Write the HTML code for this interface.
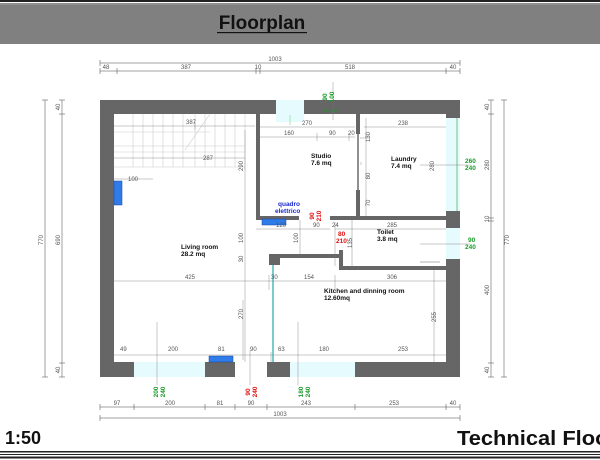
<!DOCTYPE html>
<html><head><meta charset="utf-8"><style>
html,body{margin:0;padding:0;background:#fff;}
svg{display:block;font-family:"Liberation Sans",sans-serif;}
.d{fill:#555;font-size:6px;}
.g{fill:#1a9a2a;font-size:6.5px;font-weight:bold;}
.r{fill:#e01010;font-size:6.5px;font-weight:bold;}
.rm{fill:#111;font-size:6.5px;font-weight:bold;}
</style></head><body>
<svg width="600" height="460" viewBox="0 0 600 460">
<!-- header -->
<rect x="0" y="0" width="600" height="2" fill="#222"/>
<rect x="0" y="3.5" width="600" height="1" fill="#222"/>
<rect x="0" y="5" width="600" height="39" fill="#808080"/>
<text x="262" y="29" text-anchor="middle" font-size="19" font-weight="bold" fill="#111">Floorplan</text>
<rect x="217" y="32" width="90" height="1.2" fill="#111"/>
<!-- footer -->
<text x="5" y="444" font-size="18" font-weight="bold" fill="#111">1:50</text>
<text x="457" y="445" font-size="20" font-weight="bold" fill="#111" textLength="160" lengthAdjust="spacingAndGlyphs">Technical Floor</text>
<rect x="0" y="451" width="600" height="1.5" fill="#222"/>
<rect x="0" y="454" width="600" height="1" fill="#222"/>
<rect x="0" y="456.5" width="600" height="2" fill="#222"/>

<!-- windows cyan -->
<g fill="#e6fbfd">
<rect x="276" y="100" width="28" height="22"/>
<rect x="446" y="228" width="14" height="31"/>
<rect x="134" y="362" width="71" height="15"/>
<rect x="290" y="362" width="65" height="15"/>
<rect x="446" y="118" width="14" height="93"/>
</g>
<line x1="457" y1="118" x2="457" y2="211" stroke="#2a9a3a" stroke-width="0.6"/>
<line x1="290" y1="115" x2="290" y2="125" stroke="#6c6" stroke-width="0.5"/>

<!-- stairs -->
<g stroke="#ccc" stroke-width="0.6" fill="none">
<path d="M114,132 H210 M114,146 H245 M114,152 H245 M114,167 H245"/>
<path d="M133,114 V167 M143,114 V167 M153,114 V167 M163,114 V167 M173,114 V167 M183,114 V167 M195,114 V167 M205,114 V167 M215,114 V167 M225,114 V167 M235,114 V167 M245,114 V170 M210,114 L185,150"/>
</g>

<!-- walls -->
<g fill="#666">
<path d="M100,100 H276 V114 H114 V362 H134 V377 H100 Z"/>
<path d="M304,100 H460 V118 H446 V114 H304 Z"/>
<rect x="446" y="211" width="14" height="17"/>
<path d="M446,259 H460 V377 H355 V362 H446 Z"/>
<rect x="205" y="362" width="30" height="15"/>
<rect x="267" y="362" width="23" height="15"/>
<rect x="256" y="114" width="4" height="106"/>
<rect x="256" y="216" width="43" height="4"/>
<rect x="330" y="216" width="116" height="4"/>
<rect x="356" y="114" width="4" height="20"/>
<rect x="356" y="190" width="4" height="26"/>
<rect x="269" y="254" width="11" height="11"/>
<rect x="269" y="254" width="73" height="4"/>
<rect x="339" y="250" width="4" height="20"/>
<rect x="339" y="266" width="107" height="4"/>
</g>
<line x1="358" y1="134" x2="358" y2="190" stroke="#222" stroke-width="1"/>
<line x1="352" y1="220" x2="352" y2="266" stroke="#888" stroke-width="0.5"/>
<line x1="273" y1="265" x2="273" y2="362" stroke="#7cc" stroke-width="2"/>
<line x1="420" y1="262" x2="440" y2="262" stroke="#999" stroke-width="0.8"/>

<!-- blue -->
<g fill="#2f7be8" stroke="#1446a0" stroke-width="0.5">
<rect x="114" y="181" width="8" height="24"/>
<rect x="262" y="219" width="24" height="6"/>
<rect x="209" y="356" width="24" height="6"/>
</g>

<!-- dimension lines -->
<g stroke="#444" stroke-width="0.5" fill="none">
<path d="M100,63 H460 M100,60 V66 M460,60 V66"/>
<path d="M100,71 H460 M100,68 V74 M117,68 V74 M256,68 V74 M260,68 V74 M446,68 V74 M460,68 V74"/>
<path d="M45,100 V377 M42,100 H48 M42,377 H48"/>
<path d="M62,100 V377 M59,100 H65 M59,114 H65 M59,363 H65 M59,377 H65"/>
<path d="M504,100 V377 M501,100 H507 M501,377 H507"/>
<path d="M491,100 V377 M488,100 H494 M488,114 H494 M488,218 H494 M488,221 H494 M488,363 H494 M488,377 H494"/>
<path d="M100,407 H460 M100,404 V410 M134,404 V410 M205,404 V410 M235,404 V410 M267,404 V410 M355,404 V410 M446,404 V410 M460,404 V410"/>
<path d="M100,418 H460 M100,415 V421 M460,415 V421"/>
</g>
<g stroke="#777" stroke-width="0.4" fill="none">
<path d="M114,126 H255 M195,122 V130 M260,127 H355 M260,137 H355 M317,133 V141 M349,133 V141 M364,127 H446"/>
<path d="M114,158 H245 M114,179 H153 M245,130 V362 M366,118 V216 M360,138 H370"/>
<path d="M256,229 H330 M300,220 V254 M335,229 H446 M335,222 V266"/>
<path d="M114,281 H446 M269,275 V290 M335,275 V290 M434,270 V362 M114,355 H446"/>
<path d="M271,352 V362 M243,300 V360 M157,322 V385 M298,322 V385 M250,350 V385 M361,162 V165 M420,165 H470 M420,244 H470 M333,82 V120"/>
</g>
<g class="d">
<text x="275" y="61" text-anchor="middle">1003</text>
<text x="106" y="69" text-anchor="middle">48</text>
<text x="186" y="69" text-anchor="middle">387</text>
<text x="258" y="69" text-anchor="middle">10</text>
<text x="350" y="69" text-anchor="middle">518</text>
<text x="453" y="69" text-anchor="middle">40</text>
<text x="117" y="405" text-anchor="middle">97</text>
<text x="170" y="405" text-anchor="middle">200</text>
<text x="220" y="405" text-anchor="middle">81</text>
<text x="251" y="405" text-anchor="middle">90</text>
<text x="306" y="405" text-anchor="middle">243</text>
<text x="394" y="405" text-anchor="middle">253</text>
<text x="453" y="405" text-anchor="middle">40</text>
<text x="280" y="416" text-anchor="middle">1003</text>
<text x="186" y="124">387</text><text x="203" y="160">287</text><text x="128" y="181">100</text>
<text x="302" y="125">270</text><text x="284" y="135">160</text><text x="329" y="135">90</text><text x="348" y="135">20</text>
<text x="398" y="125">238</text>
<text x="276" y="227">120</text><text x="313" y="227">90</text><text x="332" y="227">24</text><text x="387" y="227">285</text>
<text x="185" y="279">425</text><text x="271" y="279">30</text><text x="304" y="279">154</text><text x="387" y="279">306</text>
<text x="120" y="351">49</text><text x="168" y="351">200</text><text x="218" y="351">81</text><text x="250" y="351">90</text><text x="278" y="351">63</text><text x="319" y="351">180</text><text x="398" y="351">253</text>
</g>
<g class="d" text-anchor="middle">
<text transform="translate(43,240) rotate(-90)">770</text>
<text transform="translate(60,240) rotate(-90)">690</text>
<text transform="translate(60,107) rotate(-90)">40</text>
<text transform="translate(60,370) rotate(-90)">40</text>
<text transform="translate(509,240) rotate(-90)">770</text>
<text transform="translate(489,107) rotate(-90)">40</text>
<text transform="translate(489,165) rotate(-90)">280</text>
<text transform="translate(489,219) rotate(-90)">10</text>
<text transform="translate(489,290) rotate(-90)">400</text>
<text transform="translate(489,370) rotate(-90)">40</text>
<text transform="translate(243,166) rotate(-90)">290</text>
<text transform="translate(243,238) rotate(-90)">100</text>
<text transform="translate(243,259) rotate(-90)">30</text>
<text transform="translate(243,314) rotate(-90)">270</text>
<text transform="translate(298,238) rotate(-90)">100</text>
<text transform="translate(370,137) rotate(-90)">130</text>
<text transform="translate(370,176) rotate(-90)">80</text>
<text transform="translate(370,203) rotate(-90)">70</text>
<text transform="translate(434,166) rotate(-90)">280</text>
<text transform="translate(352,243) rotate(-90)">135</text>
<text transform="translate(436,317) rotate(-90)">255</text>
</g>
<!-- green/red labels -->
<text class="g" transform="translate(327,97) rotate(-90)" text-anchor="middle">90</text>
<text class="g" transform="translate(334,97) rotate(-90)" text-anchor="middle">100</text>
<text x="324" y="112" fill="#1a9a2a" font-size="4.5">alt*130</text>
<text class="g" x="465" y="163">260</text><text class="g" x="465" y="170">240</text>
<text class="g" x="468" y="242">90</text><text class="g" x="465" y="249">240</text>
<text class="g" transform="translate(158,392) rotate(-90)" text-anchor="middle">200</text>
<text class="g" transform="translate(165,392) rotate(-90)" text-anchor="middle">240</text>
<text class="r" transform="translate(250,392) rotate(-90)" text-anchor="middle">90</text>
<text class="r" transform="translate(257,392) rotate(-90)" text-anchor="middle">240</text>
<text class="g" transform="translate(303,392) rotate(-90)" text-anchor="middle">180</text>
<text class="g" transform="translate(310,392) rotate(-90)" text-anchor="middle">240</text>
<text class="r" transform="translate(314,216) rotate(-90)" text-anchor="middle">90</text>
<text class="r" transform="translate(321,216) rotate(-90)" text-anchor="middle">210</text>
<text class="r" x="338" y="236">80</text><text class="r" x="336" y="243">210</text>
<text x="278" y="206" fill="#1a2ad0" font-size="6.5" font-weight="bold">quadro</text>
<text x="275" y="213" fill="#1a2ad0" font-size="6.5" font-weight="bold">elettrico</text>
<!-- rooms -->
<g class="rm">
<text x="311" y="158">Studio</text><text x="311" y="165">7.6 mq</text>
<text x="391" y="161">Laundry</text><text x="391" y="168">7.4 mq</text>
<text x="377" y="234">Toilet</text><text x="377" y="241">3.8 mq</text>
<text x="181" y="249">Living room</text><text x="181" y="256">28.2 mq</text>
<text x="324" y="293">Kitchen and dinning room</text><text x="324" y="300">12.60mq</text>
</g>
</svg>
</body></html>
